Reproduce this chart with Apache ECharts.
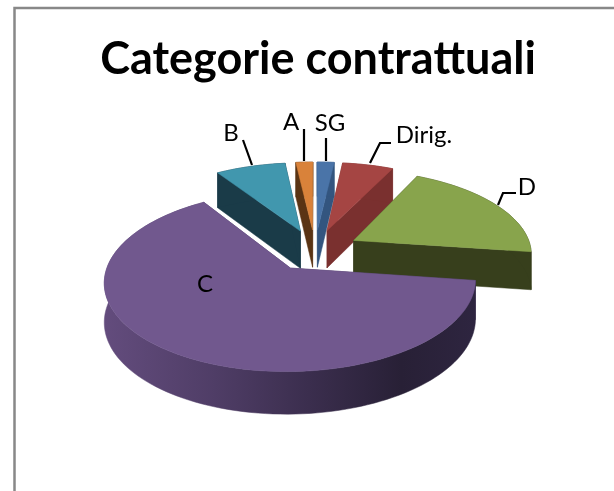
<!DOCTYPE html>
<html><head><meta charset="utf-8">
<style>html,body{margin:0;padding:0;background:#fff}#c{width:614px;height:491px}</style>
<script src="https://cdn.jsdelivr.net/npm/echarts@6/dist/echarts.min.js"></script>
</head><body><div id="c"></div>
<script>
var categories = ['SG','Dirig.','D','C','B','A'];
var values = [1.8,5.4,20,63.6,7.4,1.8];
var topColors = ['#4a74a8','#a54543','#88a44c','#71588e','#4197ae','#d9823a'];
var wallColors = ['#33557f','#7a302f','#373f1c','#4a3a60','#1a3b48','#5a3414'];
var drawOrder = [5,0,4,1,2,3];

var total = values.reduce(function(a,b){return a+b;},0);
var CX=315, CY=250, RX=178, RY=83, K=0.143, DEPTH=38, EXPLODE=0.25;
function proj(X,Y,down){
  var s=1/(1-K*Y);
  return [CX+RX*X*s, CY+RY*Y*s+(down?DEPTH*Math.pow(s,0.6):0)];
}
function pt(ox,oy,deg,down){
  var a=deg*Math.PI/180;
  return proj(ox+Math.sin(a),oy-Math.cos(a),down);
}
var starts=[],acc=0;
values.forEach(function(v){starts.push(acc);acc+=v;});
var labelPos={SG:[330,123],'Dirig.':[424,135],D:[527,187],C:[205,284],B:[231,133],A:[291,122]};

function renderSlice(params,api){
  var i=drawOrder[params.dataIndex];
  var a0=starts[i]/total*360, a1=(starts[i]+api.value(0))/total*360;
  var mid=(a0+a1)/2*Math.PI/180;
  var ox=EXPLODE*Math.sin(mid), oy=-EXPLODE*Math.cos(mid);
  var arc=[],low=[];
  var n=Math.max(4,Math.ceil((a1-a0)/2));
  for(var j=0;j<=n;j++){
    var d=a0+(a1-a0)*j/n;
    arc.push(pt(ox,oy,d,false));low.push(pt(ox,oy,d,true));
  }
  var c=proj(ox,oy,false), cd=proj(ox,oy,true);
  var wall=wallColors[i], kids=[];
  function poly(points,fill,stroke){
    kids.push({type:'polygon',shape:{points:points},
      style:{fill:fill,stroke:stroke||fill,lineWidth:0.5}});
  }
  poly([c,arc[0],low[0],cd],wall);
  poly([c,arc[n],low[n],cd],wall);
  var outer=arc.concat(low.slice().reverse());
  var fill=wall;
  if(categories[i]==='C'){
    fill=new echarts.graphic.LinearGradient(0,0,1,0,[
      {offset:0,color:'#634c7d'},{offset:0.3,color:'#4f3d66'},
      {offset:0.55,color:'#3b2e4e'},{offset:0.8,color:'#282036'},{offset:1,color:'#2e2540'}]);
  }
  poly(outer,fill);
  poly([c].concat(arc),topColors[i]);
  return {type:'group',children:kids};
}

var chart=echarts.init(document.getElementById('c'),null,{renderer:'canvas'});
function leader(pts){
  return {type:'polyline',shape:{points:pts},style:{stroke:'#000',lineWidth:2.2,fill:null},z:5};
}
var labelG=categories.map(function(n){
  return {type:'text',x:labelPos[n][0],y:labelPos[n][1],z:6,
    style:{text:n,fontFamily:'Lato',fontSize:24,fill:'#000',align:'center',verticalAlign:'middle'}};
});
chart.setOption({
  animation:false,
  backgroundColor:'#fff',
  title:{text:'Categorie contrattuali',left:313,textAlign:'center',top:32,
    textStyle:{fontFamily:'Lato',fontWeight:'bold',fontSize:45,color:'#000'}},
  series:[{type:'custom',coordinateSystem:'none',renderItem:renderSlice,
    data:drawOrder.map(function(i){return [values[i]];})}],
  graphic:[
    {type:'polyline',shape:{points:[[14.5,491],[14.5,8],[614,8]]},style:{stroke:'#888',lineWidth:2.5,fill:null}},
    leader([[243,140],[252,165]]),
    leader([[304,129],[304,161]]),
    leader([[326,138],[326,161]]),
    leader([[391,143],[380,143],[370,163]]),
    leader([[516,193],[503,193],[498,205]])
  ].concat(labelG)
});
</script></body></html>
